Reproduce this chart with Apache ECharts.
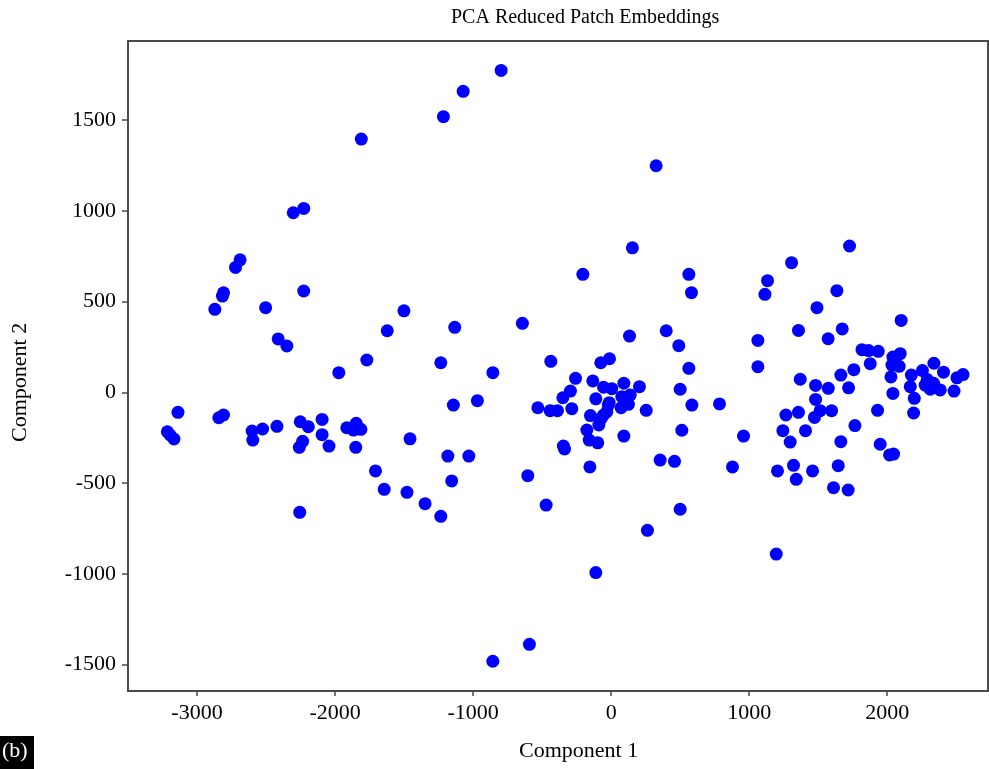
<!DOCTYPE html>
<html>
<head>
<meta charset="utf-8">
<title>PCA Reduced Patch Embeddings</title>
<script src="https://cdn.jsdelivr.net/npm/echarts@6/dist/echarts.min.js"></script>
<style>
  html, body { margin: 0; padding: 0; background: #fff; }
  #chart { width: 989px; height: 769px; }
</style>
</head>
<body>
<div id="chart"></div>
<script>
// tick labels
const xTicks = [-3000, -2000, -1000, 0, 1000, 2000]
const yTicks = [-1500, -1000, -500, 0, 500, 1000, 1500]

// component 1 / component 2 of each patch
const comp1 = [
  -1810, -2303, -2227, -2688, -2721, -2808, -2816, -2871, -2503, -2227,
  -1501, -1622, -2412, -2349, -1770, -1973, -3138, -3215, -3195, -3167,
  -2842, -2808, -2601, -2596, -2525, -2421, -2252, -2194, -2094, -2235,
  -2259, -2094, -2044, -1915, -1867, -1847, -1813, -1850, -1457, -1707,
  -1644, -1479, -1348, -2256, -1234,
  -797, -1072, -1215, 326, 154, -205, 563, 582, -1133, -643,
  133, 399, 490, -1234, -857, -437, -75, -12, 563, -1143,
  -969, -1183, -1031, -1155, -604, -471, -857, -592, -111, 263,
  500, 355, 459, -154, 92, 512, 585, 500, 205, 92,
  138, 72, 125, 5, -55, -14, -31, -72, -133, -111,
  -150, -89, -176, -159, -97, -258, -295, -350, -285, -531,
  -442, -389, -346, -338, 77, 254, -55, -20,
  1727, 1307, 1133, 1114, 1635, 1491, 2101, 1357, 1674, 1572,
  1063, 1063, 1817, 1865, 1935, 1877, 1758, 1664, 1370, 1481,
  1573, 1720, 2094, 2041, 2034, 2087, 2027, 2041, 2175, 2167,
  2196, 2191, 2255, 2338, 2408, 2290, 2336, 2275, 2312, 2384,
  2484, 2505, 2549, 785, 959, 879, 1196, 1266, 1357, 1244,
  1297, 1408, 1473, 1514, 1481, 1597, 1930, 1766, 1664, 1949,
  2017, 2046, 1645, 1321, 1205, 1341, 1459, 1611, 1717
]
const comp2 = [
  1395, 989, 1013, 730, 688, 548, 530, 457, 466, 558,
  449, 339, 294, 255, 178, 108, -110, -217, -235, -257,
  -140, -125, -213, -263, -202, -187, -162, -189, -149, -270,
  -303, -233, -296, -195, -208, -171, -204, -303, -256, -433,
  -534, -551, -613, -661, -683,
  1773, 1658, 1518, 1248, 796, 650, 650, 549, 358, 380,
  310, 339, 257, 163, 108, 171, 163, 185, 132, -70,
  -46, -351, -351, -488, -459, -621, -1481, -1388, -993, -760,
  -644, -373, -380, -411, -241, -209, -70, 17, 31, 50,
  -15, -85, -66, 20, 28, -57, -107, -143, 63, -36,
  -128, -180, -208, -263, -278, 77, 7, -30, -90, -85,
  -101, -101, -296, -312, -24, -99, -125, -70,
  806, 714, 615, 540, 560, 466, 396, 341, 349, 295,
  286, 141, 235, 230, 226, 158, 125, 95, 72, 38,
  22, 25, 213, 194, 150, 143, 85, -6, 95, 31,
  -33, -114, 120, 160, 111, 70, 50, 40, 17, 13,
  7, 80, 98, -64, -241, -411, -891, -125, -110, -211,
  -274, -211, -138, -101, -39, -101, -99, -183, -272, -286,
  -345, -340, -404, -402, -433, -479, -433, -525, -538
]

const points = comp1.map((x, i) => [x, comp2[i]])

const serif = "'Liberation Serif', 'DejaVu Serif', serif"
const axisColor = '#4a4a4a'

const chart = echarts.init(document.getElementById('chart'), null, { renderer: 'canvas' })

const option = {
  backgroundColor: '#ffffff',
  animation: false,
  textStyle: { fontFamily: serif },
  grid: {
    left: 128,
    right: 1,
    top: 41,
    bottom: 78,
    show: true,
    borderColor: axisColor,
    borderWidth: 2
  },
  xAxis: {
    type: 'value',
    min: -3500,
    max: 2730,
    splitLine: { show: false },
    axisLine: { show: true, onZero: false, lineStyle: { color: axisColor, width: 2 } },
    axisTick: { show: true, length: 5, customValues: xTicks, lineStyle: { color: axisColor, width: 1.5 } },
    axisLabel: {
      customValues: xTicks,
      formatter: v => String(v),
      margin: 11,
      color: '#000',
      fontFamily: serif,
      fontSize: 22
    }
  },
  yAxis: {
    type: 'value',
    min: -1645,
    max: 1935,
    splitLine: { show: false },
    axisLine: { show: true, onZero: false, lineStyle: { color: axisColor, width: 2 } },
    axisTick: { show: true, length: 6, customValues: yTicks, lineStyle: { color: axisColor, width: 1.5 } },
    axisLabel: {
      customValues: yTicks,
      formatter: v => String(v),
      margin: 12,
      color: '#000',
      fontFamily: serif,
      fontSize: 22
    }
  },
  graphic: [
    {
      type: 'text',
      left: 451,
      top: 8,
      style: { text: 'PCA Reduced Patch Embeddings', font: '20px ' + serif, fill: '#000' }
    },
    {
      type: 'text',
      left: 519,
      top: 740,
      style: { text: 'Component 1', font: '22px ' + serif, fill: '#000' }
    },
    {
      type: 'text',
      x: 9,
      y: 442,
      rotation: Math.PI / 2,
      style: { text: 'Component 2', font: '22px ' + serif, fill: '#000' }
    },
    {
      type: 'rect',
      shape: { x: 0, y: 736, width: 34, height: 33 },
      style: { fill: '#000' }
    },
    {
      type: 'text',
      left: 2,
      top: 740,
      style: { text: '(b)', font: '22px ' + serif, fill: '#fff' }
    }
  ],
  series: [
    {
      name: 'patches',
      type: 'scatter',
      symbol: 'circle',
      symbolSize: 13,
      itemStyle: { color: '#0000ff', opacity: 1 },
      data: points
    }
  ]
}

chart.setOption(option)
</script>
</body>
</html>
